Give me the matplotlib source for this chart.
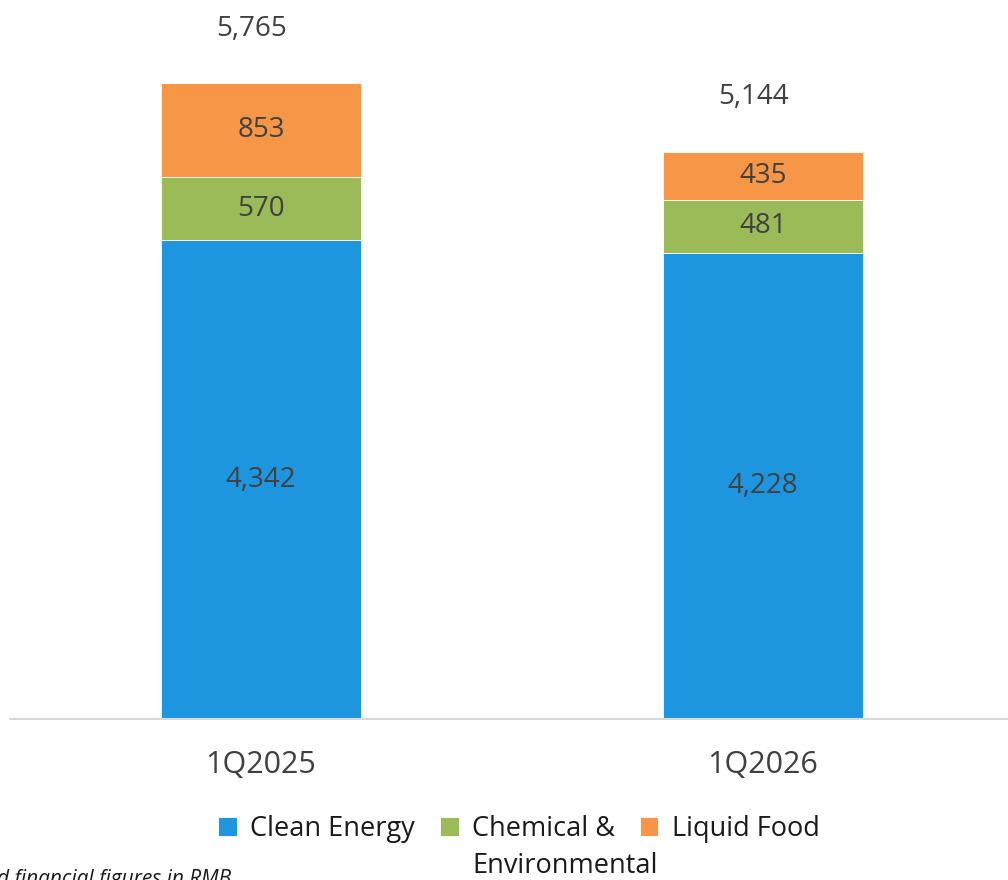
import matplotlib
matplotlib.use('Agg')
import matplotlib.pyplot as plt
import numpy as np

# Revenue by segment (RMB million)
periods = ['1Q2025', '1Q2026']
segments = ['Clean Energy', 'Chemical &', 'Liquid Food']
cleanEnergy = [4342, 4228]
chemical = [570, 481]
liquidFood = [853, 435]
totals = [5765, 5144]

colors = ['#1E96DF', '#9BBB59', '#F79646']
textColor = '#404040'

plt.rcParams['font.family'] = ['Open Sans', 'DejaVu Sans']

W, H = 1008, 880
fig = plt.figure(figsize=(W / 100, H / 100), dpi=100)
ax = fig.add_axes([10 / W, 161 / H, 1 - 10 / W, 719 / H])

x = np.arange(len(periods))
width = 0.4
bottom = np.zeros(len(periods))
for name, vals, c in zip(segments, [cleanEnergy, chemical, liquidFood], colors):
    bars = ax.bar(x, vals, width, bottom=bottom, color=c, label=name,
                  edgecolor='white', linewidth=0.6)
    ax.bar_label(bars, labels=[f'{v:,}' for v in vals], label_type='center',
                 color=textColor, fontsize=20)
    bottom += np.array(vals)

# totals above the stacks
for xi, t in zip(x, totals):
    ax.annotate(f'{t:,}', (xi, t), xytext=(-7, 39), textcoords='offset points',
                ha='center', va='center', color=textColor, fontsize=20)

ax.set_xlim(-0.5, 1.488)
ax.set_ylim(0, 6519)
ax.set_xticks(x)
ax.set_xticklabels(periods, fontsize=22, color=textColor)
ax.tick_params(axis='x', length=0, pad=22)
ax.set_yticks([])
for s in ['top', 'right', 'left']:
    ax.spines[s].set_visible(False)
ax.spines['bottom'].set_color('#D9D9D9')
ax.spines['bottom'].set_linewidth(1.5)

handles, labels = ax.get_legend_handles_labels()
leg = fig.legend(handles, labels, loc='center left', bbox_to_anchor=(218 / W, 1 - 829 / H),
                 ncol=3, frameon=False, fontsize=19.5, handlelength=0.7, handleheight=0.7,
                 handletextpad=0.5, columnspacing=0.9, borderpad=0, borderaxespad=0,
                 labelcolor='#1a1a1a')

# second line of the wrapped legend label
fig.canvas.draw()
bb = leg.get_texts()[1].get_window_extent()
fig.text(bb.x0 / W, (bb.y0 - 37) / H, 'Environmental', fontsize=19.5,
         color='#1a1a1a', ha='left', va='bottom')

fig.text(-0.003, 0.012, 'd financial figures in RMB', fontsize=15, style='italic',
         ha='left', va='top', color='#1a1a1a')

fig.savefig('out.png', dpi=100)
